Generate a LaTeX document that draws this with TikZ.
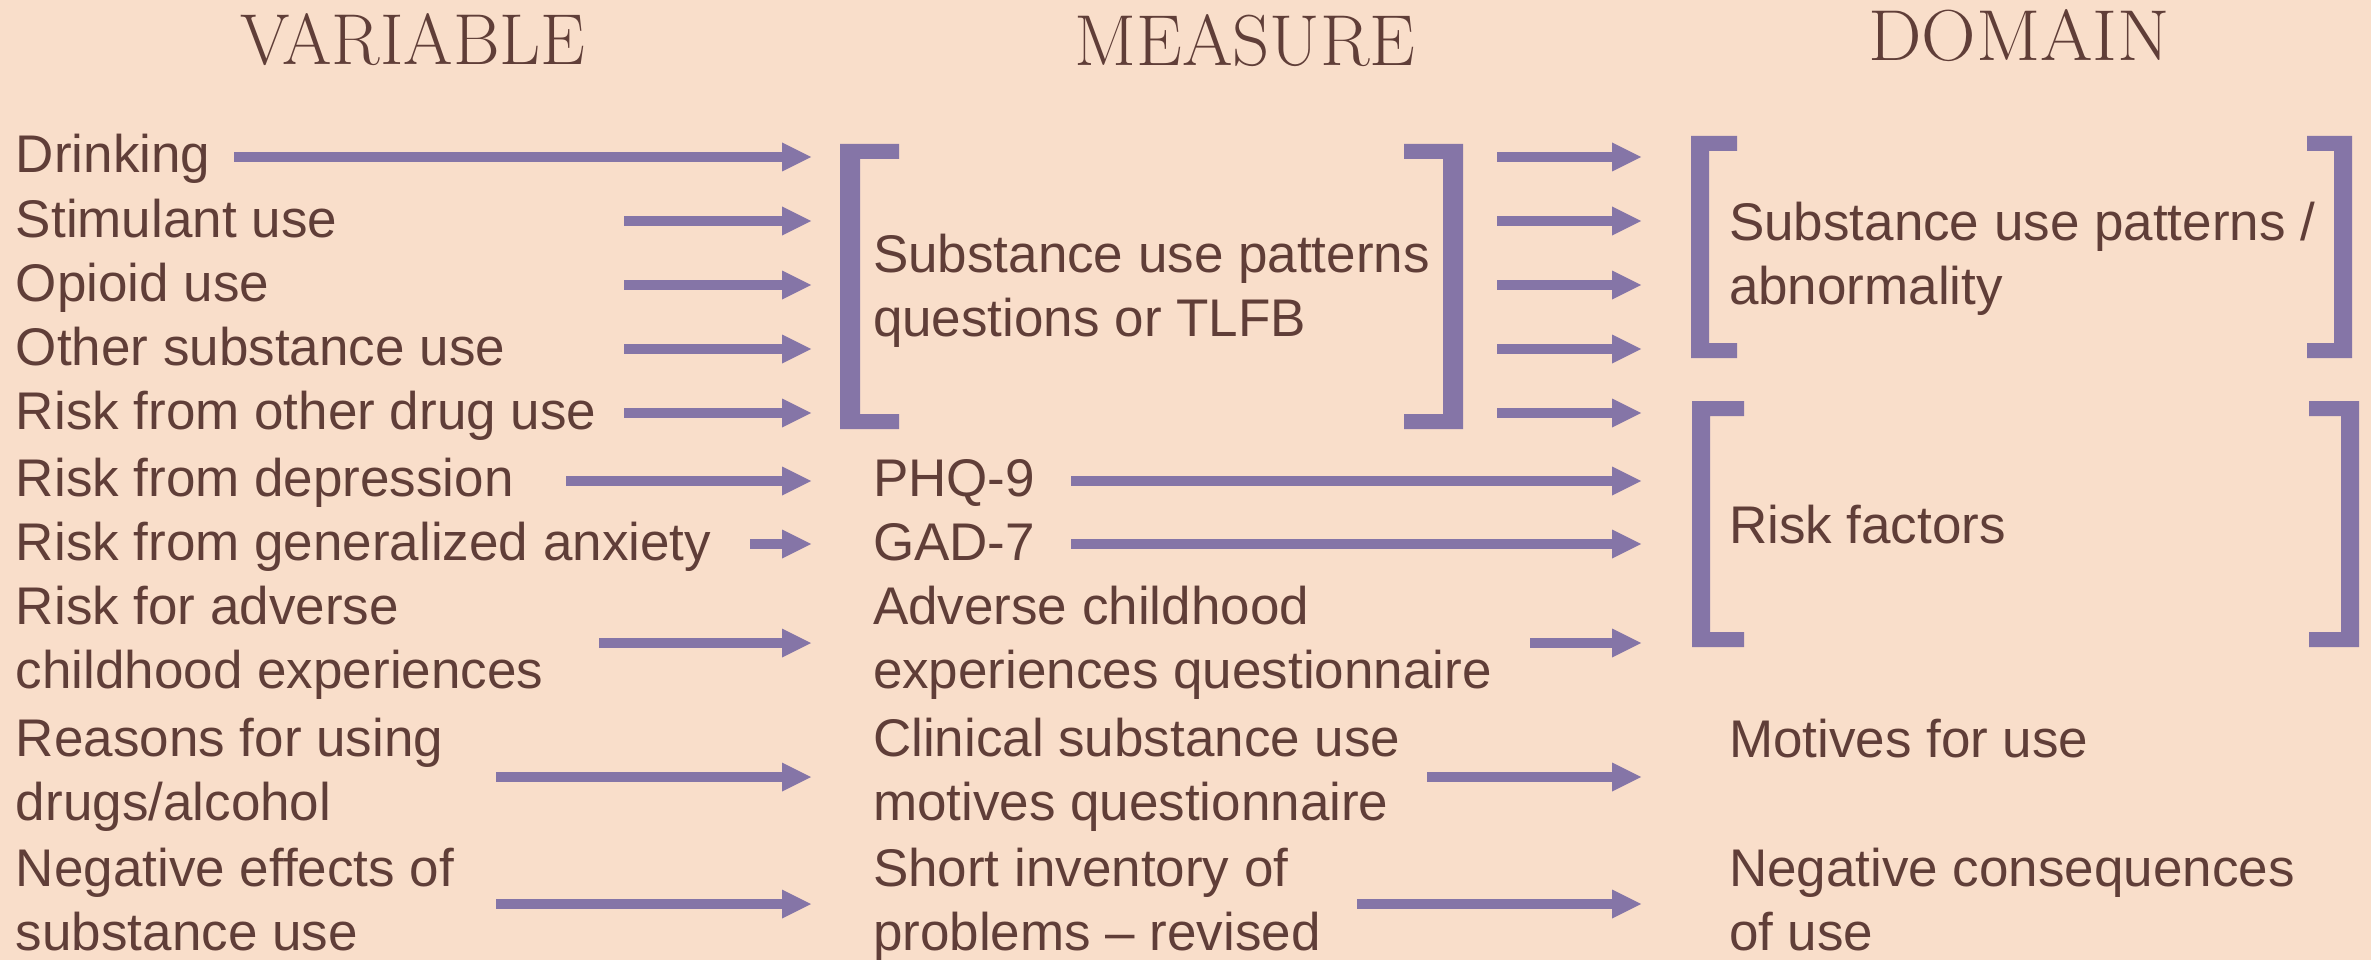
\documentclass[tikz,border=0pt]{standalone}
\usepackage{fontspec}
\setsansfont{Liberation Sans}
\usetikzlibrary{arrows.meta}
\definecolor{bgpeach}{RGB}{249,222,202}
\definecolor{txtbrown}{RGB}{96,62,56}
\definecolor{arrpurple}{RGB}{133,117,167}
\newcommand{\brkt}[5]{% outer x, inner x, arm end x, top y, bottom y
  \fill[arrpurple] (#3,#4) -- (#1,#4) -- (#1,#5) -- (#3,#5) -- (#3,{#5-15}) -- (#2,{#5-15}) -- (#2,{#4+15}) -- (#3,{#4+15}) -- cycle;}
\begin{document}
\begin{tikzpicture}[x=1pt,y=-1pt,
  lbl/.style={anchor=base west,inner sep=0pt,outer sep=0pt,text=txtbrown,align=left,
    font=\sffamily\fontsize{53}{64}\selectfont},
  hdr/.style={anchor=base,inner sep=0pt,outer sep=0pt,text=txtbrown,
    font=\rmfamily\fontsize{75}{75}\selectfont},
  arr/.style={draw=arrpurple,line width=10pt,
    -{Triangle[length=29pt,width=29pt,line width=0pt]}}]
\fill[bgpeach] (0,0) rectangle (2371,960);
\useasboundingbox (0,0) rectangle (2371,960);

% headers
\node[hdr] (hvar) at (413,65) {\resizebox{345pt}{51pt}{VARIABLE}};
\node[hdr] (hmea) at (1245,66) {\resizebox{341pt}{51pt}{MEASURE}};
\node[hdr] (hdom) at (2019,61) {\resizebox{302pt}{51pt}{DOMAIN}};

% variables (multi-line nodes are placed at the baseline of their last line)
\node[lbl] (v1) at (16,173) {Drinking};
\node[lbl] (v2) at (16,237) {Stimulant use};
\node[lbl] (v3) at (16,301) {Opioid use};
\node[lbl] (v4) at (16,365) {Other substance use};
\node[lbl] (v5) at (16,429) {Risk from other drug use};
\node[lbl] (v6) at (16,496) {Risk from depression};
\node[lbl] (v7) at (16,560) {Risk from generalized anxiety};
\node[lbl] (v8) at (16,688) {Risk for adverse\\childhood experiences};
\node[lbl] (v9) at (16,820) {Reasons for using\\drugs/alcohol};
\node[lbl] (v10) at (16,950) {Negative effects of\\substance use};

% measures
\node[lbl] (m1) at (873,336) {Substance use patterns\\questions or TLFB};
\node[lbl] (m2) at (873,496) {PHQ-9};
\node[lbl] (m3) at (873,560) {GAD-7};
\node[lbl] (m4) at (873,688) {Adverse childhood\\experiences questionnaire};
\node[lbl] (m5) at (873,820) {Clinical substance use\\motives questionnaire};
\node[lbl] (m6) at (873,950) {Short inventory of\\problems -- revised};

% domains
\node[lbl] (d1) at (1729,304) {Substance use patterns /\\abnormality};
\node[lbl] (d2) at (1729,543) {Risk factors};
\node[lbl] (d3) at (1729,757) {Motives for use};
\node[lbl] (d4) at (1729,950) {Negative consequences\\of use};

% brackets
\brkt{840}{860}{899}{144}{429}
\brkt{1463}{1443}{1404}{144}{429}
\brkt{1691}{1709}{1737}{136}{358}
\brkt{2352}{2334}{2307}{136}{358}
\brkt{1692}{1710}{1744}{401}{647}
\brkt{2359}{2341}{2309}{401}{647}

% arrow end points, column 1
\coordinate (a1s) at (234,157);  \coordinate (a1e) at (811,157);
\coordinate (a2s) at (624,221);  \coordinate (a2e) at (811,221);
\coordinate (a3s) at (624,285);  \coordinate (a3e) at (811,285);
\coordinate (a4s) at (624,349);  \coordinate (a4e) at (811,349);
\coordinate (a5s) at (624,413);  \coordinate (a5e) at (811,413);
\coordinate (a6s) at (566,481);  \coordinate (a6e) at (811,481);
\coordinate (a7s) at (750,544);  \coordinate (a7e) at (811,544);
\coordinate (a8s) at (599,643);  \coordinate (a8e) at (811,643);
\coordinate (a9s) at (496,777);  \coordinate (a9e) at (811,777);
\coordinate (a10s) at (496,904); \coordinate (a10e) at (811,904);
% column 2
\coordinate (b1s) at (1497,157); \coordinate (b1e) at (1641,157);
\coordinate (b2s) at (1497,221); \coordinate (b2e) at (1641,221);
\coordinate (b3s) at (1497,285); \coordinate (b3e) at (1641,285);
\coordinate (b4s) at (1497,349); \coordinate (b4e) at (1641,349);
\coordinate (b5s) at (1497,413); \coordinate (b5e) at (1641,413);
\coordinate (b6s) at (1071,481); \coordinate (b6e) at (1641,481);
\coordinate (b7s) at (1071,544); \coordinate (b7e) at (1641,544);
\coordinate (b8s) at (1530,643); \coordinate (b8e) at (1641,643);
\coordinate (b9s) at (1427,777); \coordinate (b9e) at (1641,777);
\coordinate (b10s) at (1357,904); \coordinate (b10e) at (1641,904);

\foreach \i in {1,...,10} {
  \draw[arr] (a\i s) -- (a\i e);
  \draw[arr] (b\i s) -- (b\i e);
}
\end{tikzpicture}
\end{document}
